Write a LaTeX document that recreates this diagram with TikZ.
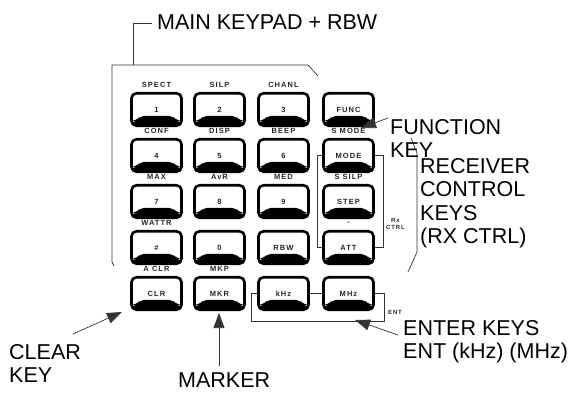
\documentclass[tikz,border=0pt]{standalone}
\usepackage{fontspec}
\setmainfont{Liberation Sans}
\newfontfamily\keyfont[LetterSpace=14]{Liberation Sans}
\usetikzlibrary{arrows.meta,calc}
\begin{document}
\begin{tikzpicture}[x=1pt,y=-1pt,
 keybox/.style={draw=black, line width=2.6pt, rounded corners=5pt, fill=white,
   minimum width=50pt, minimum height=32.5pt, inner sep=0pt,
   font=\keyfont\bfseries\fontsize{7.5}{8}\selectfont, text=black!85,
   path picture={\fill[black] (path picture bounding box.south west) -- ++(0pt,5pt) -- ++(5pt,0pt) -- ++(4pt,5pt)
     -- ($(path picture bounding box.south east)+(-9pt,10pt)$) -- ++(4pt,-5pt) -- ++(5pt,0pt)
     -- (path picture bounding box.south east) -- cycle;}},
 klabel/.style={font=\keyfont\bfseries\fontsize{7.5}{8}\selectfont, inner sep=0pt, text=black!85},
 big/.style={font=\fontsize{21.5}{23.5}\selectfont, inner sep=0pt, anchor=base west, align=left},
 wire/.style={line width=0.7pt, draw=black!80},
 arr/.style={wire, -{Triangle[length=15pt,width=11pt]}},
]
\useasboundingbox (0,0) rectangle (574,394);
% keys
\node[keybox] (k1)   at (156.5,109.5) {1};
\node[keybox] (k2)   at (219.5,109.5) {2};
\node[keybox] (k3)   at (283.5,109.5) {3};
\node[keybox] (func) at (348.5,109.5) {FUNC};
\node[keybox] (k4)   at (156.5,155.5) {4};
\node[keybox] (k5)   at (219.5,155.5) {5};
\node[keybox] (k6)   at (283.5,155.5) {6};
\node[keybox] (mode) at (348.5,155.5) {MODE};
\node[keybox] (k7)   at (156.5,201.5) {7};
\node[keybox] (k8)   at (219.5,201.5) {8};
\node[keybox] (k9)   at (283.5,201.5) {9};
\node[keybox] (step) at (348.5,201.5) {STEP};
\node[keybox] (hash) at (156.5,247.5) {\#};
\node[keybox] (k0)   at (219.5,247.5) {0};
\node[keybox] (rbw)  at (283.5,247.5) {RBW};
\node[keybox] (att)  at (348.5,247.5) {ATT};
\node[keybox] (clr)  at (156.5,293.5) {CLR};
\node[keybox] (mkr)  at (219.5,293.5) {MKR};
\node[keybox] (khz)  at (283.5,293.5) {kHz};
\node[keybox] (mhz)  at (348.5,293.5) {MHz};
% labels above keys
\node[klabel] (l1) at (156.5,85) {SPECT};
\node[klabel] (l2) at (219.5,85) {SILP};
\node[klabel] (l3) at (283.5,85) {CHANL};
\node[klabel] (l4) at (156.5,131) {CONF};
\node[klabel] (l5) at (219.5,131) {DISP};
\node[klabel] (l6) at (283.5,131) {BEEP};
\node[klabel] (lm) at (348.5,131) {S MODE};
\node[klabel] (l7) at (156.5,177) {MAX};
\node[klabel] (l8) at (219.5,177) {AvR};
\node[klabel] (l9) at (283.5,177) {MED};
\node[klabel] (ls) at (348.5,177) {S SILP};
\node[klabel] (lh) at (156.5,223) {WATTR};
\node[klabel] (la) at (348.5,223) {-};
\node[klabel] (lc) at (156.5,269) {A CLR};
\node[klabel] (lk) at (219.5,269) {MKP};
% RX CTRL brackets
\draw[wire] (mode.west) -- ++(-5,0) |- (att.west);
\draw[wire] (mode.east) -- ++(9,0) |- (att.east);
\node[klabel, anchor=west, align=center, font=\keyfont\bfseries\fontsize{6}{7}\selectfont] (rxl) at (386,224) {Rx\\CTRL};
% ENT bracket
\draw[wire] (khz.east) -- (mhz.west);
\draw[wire] (mhz.east) -- ++(10,0) -- ++(0,28) -| ($(khz.west)+(-6,0)$) -- (khz.west);
\node[klabel, anchor=west, font=\keyfont\bfseries\fontsize{6}{7}\selectfont] (entl) at (388,312) {ENT};
% main keypad bracket
\draw[wire] (114,266) -- (112,262) -- (112,65) -- (308,65) -- (318,76);
\node[big] (mainl) at (157,29.7) {MAIN KEYPAD + RBW};
\draw[wire] (133,65) -- (133,23) -- (152,23);
% receiver control bracket
\draw[wire] (411,138) -- (417,153) -- (417,252) -- (408,272);
\node[big] (rcvl) at (420,243.7) {RECEIVER\\CONTROL\\KEYS\\(RX CTRL)};
% function
\node[big] (funcl) at (390,157.7) {FUNCTION\\KEY};
\coordinate (fa) at (388,118);
\coordinate (ft) at (361,128);
\draw[arr] (fa) -- (ft);
% clear
\node[big] (clearl) at (9,382.7) {CLEAR\\KEY};
\coordinate (ca) at (73,334);
\coordinate (ct) at (122,312);
\draw[arr] (ca) -- (ct);
% marker
\node[big] (markl) at (178,387.7) {MARKER};
\coordinate (ma) at (219,366);
\coordinate (mt) at (219,313);
\draw[arr] (ma) -- (mt);
% enter
\node[big] (entk) at (403,358.7) {ENTER KEYS\\ENT (kHz) (MHz)};
\coordinate (ea) at (398,335);
\coordinate (et) at (355,320);
\draw[arr] (ea) -- (et);
\end{tikzpicture}
\end{document}
